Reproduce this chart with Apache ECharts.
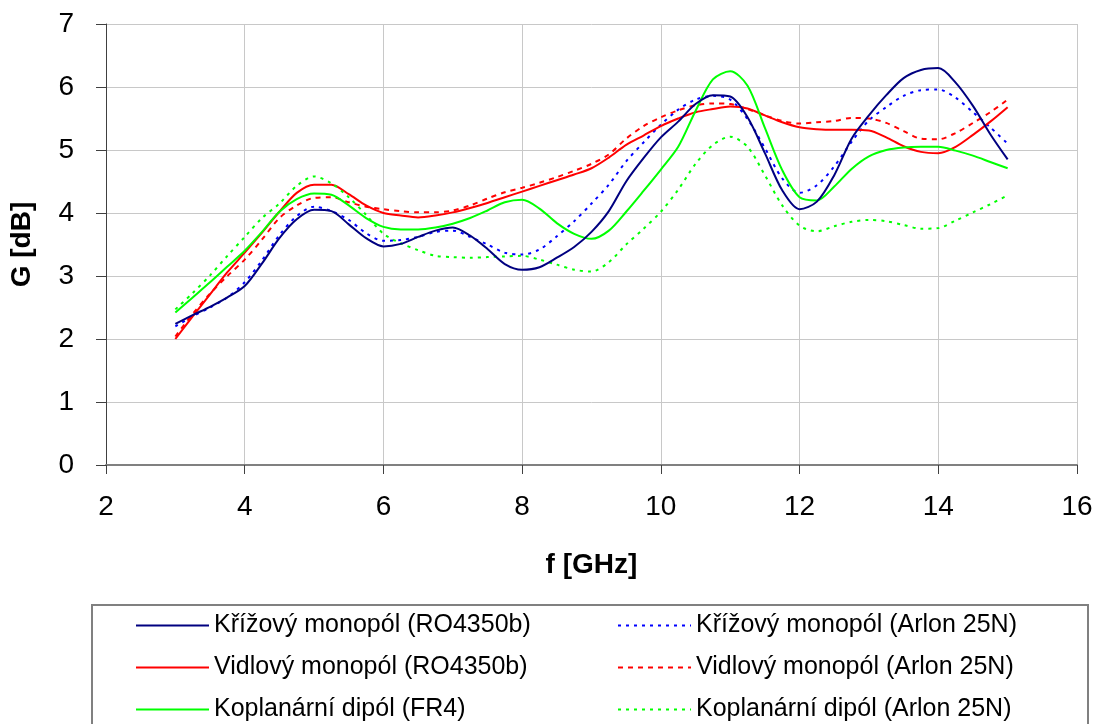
<!DOCTYPE html>
<html>
<head>
<meta charset="utf-8">
<script src="https://cdn.jsdelivr.net/npm/echarts@6/dist/echarts.min.js"></script>
<style>
html,body{margin:0;padding:0;background:#fff;}
#chart{width:1098px;height:724px;}
</style>
</head>
<body>
<div id="chart"></div>
<script>
// Frequency grid [GHz]
const freq = [3.0,3.25,3.5,3.75,4.0,4.25,4.5,4.75,5.0,5.25,5.5,5.75,6.0,6.25,6.5,6.75,7.0,7.25,7.5,7.75,8.0,8.25,8.5,8.75,9.0,9.25,9.5,9.75,10.0,10.25,10.5,10.75,11.0,11.25,11.5,11.75,12.0,12.25,12.5,12.75,13.0,13.25,13.5,13.75,14.0,14.25,14.5,14.75,15.0];

const names = [
  "Křížový monopól (RO4350b)",
  "Křížový monopól (Arlon 25N)",
  "Vidlový monopól (RO4350b)",
  "Vidlový monopól (Arlon 25N)",
  "Koplanární dipól (FR4)",
  "Koplanární dipól (Arlon 25N)"
];

const krizRO = [2.24,2.38,2.51,2.66,2.84,3.20,3.60,3.90,4.05,4.03,3.82,3.60,3.47,3.51,3.62,3.72,3.77,3.64,3.43,3.19,3.10,3.14,3.29,3.46,3.70,4.03,4.50,4.87,5.20,5.45,5.73,5.87,5.85,5.52,4.95,4.36,4.06,4.18,4.60,5.18,5.55,5.87,6.14,6.27,6.30,6.07,5.70,5.25,4.85];
const krizAR = [2.20,2.36,2.50,2.66,2.90,3.25,3.65,3.95,4.10,4.03,3.89,3.68,3.56,3.57,3.62,3.70,3.72,3.62,3.50,3.37,3.34,3.42,3.63,3.87,4.15,4.45,4.82,5.12,5.40,5.64,5.80,5.86,5.80,5.49,5.03,4.55,4.32,4.44,4.74,5.13,5.47,5.68,5.86,5.95,5.96,5.83,5.60,5.36,5.10];
const vidRO = [2.00,2.36,2.71,3.06,3.37,3.69,4.02,4.32,4.45,4.45,4.30,4.12,4.00,3.96,3.93,3.96,4.01,4.08,4.16,4.25,4.34,4.43,4.52,4.61,4.71,4.88,5.08,5.23,5.38,5.50,5.60,5.65,5.69,5.66,5.55,5.44,5.36,5.33,5.32,5.32,5.31,5.20,5.06,4.97,4.95,5.05,5.24,5.45,5.68];
const vidAR = [2.04,2.40,2.72,3.00,3.26,3.58,3.92,4.12,4.24,4.25,4.17,4.10,4.06,4.03,4.01,4.01,4.04,4.12,4.23,4.33,4.40,4.48,4.57,4.67,4.78,4.93,5.18,5.38,5.52,5.63,5.71,5.74,5.73,5.65,5.55,5.46,5.42,5.44,5.46,5.51,5.50,5.43,5.30,5.18,5.17,5.27,5.43,5.60,5.80];
const kopFR4 = [2.42,2.66,2.90,3.15,3.40,3.70,4.02,4.22,4.31,4.29,4.12,3.92,3.78,3.74,3.74,3.77,3.83,3.92,4.04,4.17,4.21,4.07,3.84,3.67,3.59,3.72,4.02,4.35,4.69,5.05,5.62,6.12,6.25,6.02,5.35,4.68,4.25,4.20,4.42,4.70,4.90,5.00,5.04,5.05,5.05,4.99,4.91,4.81,4.71];
const kopAR = [2.47,2.73,3.01,3.32,3.62,3.92,4.15,4.43,4.58,4.47,4.25,3.97,3.67,3.52,3.41,3.32,3.30,3.29,3.30,3.31,3.32,3.26,3.18,3.10,3.07,3.22,3.50,3.75,4.02,4.37,4.78,5.08,5.21,5.05,4.60,4.12,3.80,3.71,3.79,3.86,3.89,3.87,3.81,3.75,3.76,3.88,4.01,4.14,4.28];

const values = [krizRO, krizAR, vidRO, vidAR, kopFR4, kopAR];
const colors = ['#000080', '#0000FF', '#FF0000', '#FF0000', '#00FF00', '#00FF00'];
const dashes = ['solid', [3,5], 'solid', [5,5], 'solid', [3,5]];

const chart = echarts.init(document.getElementById('chart'), null, {renderer: 'canvas'});
const FONT = 'Liberation Sans, Arial, sans-serif';

const series = values.map((v, i) => ({
  name: names[i],
  type: 'line',
  data: freq.map((f, j) => [f, v[j]]),
  smooth: 0.3,
  symbol: 'none',
  showSymbol: false,
  lineStyle: {color: colors[i], width: 2, type: dashes[i]},
  itemStyle: {color: colors[i]},
  z: i === 0 ? 5 : 3,
  animation: false
}));

const legendCommon = {
  show: true,
  orient: 'vertical',
  top: 613,
  padding: 0,
  itemWidth: 73,
  itemHeight: 25,
  itemGap: 17,
  itemStyle: {opacity: 0},
  textStyle: {fontFamily: FONT, fontSize: 25, color: '#000'},
  selectedMode: false
};

chart.setOption({
  backgroundColor: '#fff',
  animation: false,
  grid: {left: 103, right: 21, top: 24, bottom: 259, containLabel: false},
  xAxis: {
    type: 'value', min: 2, max: 16, interval: 2,
    name: 'f [GHz]', nameLocation: 'middle', nameGap: 86,
    nameTextStyle: {fontFamily: FONT, fontSize: 28, fontWeight: 'bold', color: '#000'},
    axisLine: {show: true, onZero: false, lineStyle: {color: '#808080', width: 2}},
    axisTick: {show: true, inside: false, length: 9, lineStyle: {color: '#404040', width: 1}},
    axisLabel: {fontFamily: FONT, fontSize: 28, color: '#000', margin: 28},
    splitLine: {show: true, lineStyle: {color: '#c8c8c8', width: 1}}
  },
  yAxis: {
    type: 'value', min: 0, max: 7, interval: 1,
    name: 'G [dB]', nameLocation: 'middle', nameGap: 70, nameRotate: 90,
    nameTextStyle: {fontFamily: FONT, fontSize: 28, fontWeight: 'bold', color: '#000'},
    axisLine: {show: true, lineStyle: {color: '#404040', width: 1}},
    axisTick: {show: true, inside: false, length: 10, lineStyle: {color: '#404040', width: 1}},
    axisLabel: {fontFamily: FONT, fontSize: 28, color: '#000', margin: 32},
    splitLine: {show: true, lineStyle: {color: '#c8c8c8', width: 1}}
  },
  legend: [
    Object.assign({}, legendCommon, {id: 'l1', left: 135, data: [names[0], names[2], names[4]]}),
    Object.assign({}, legendCommon, {id: 'l2', left: 617, data: [names[1], names[3], names[5]]})
  ],
  graphic: [{
    type: 'rect',
    shape: {x: 92, y: 605, width: 996, height: 140},
    style: {fill: 'none', stroke: '#808080', lineWidth: 2},
    silent: true,
    z: -1
  }],
  series: series
});
</script>
</body>
</html>
